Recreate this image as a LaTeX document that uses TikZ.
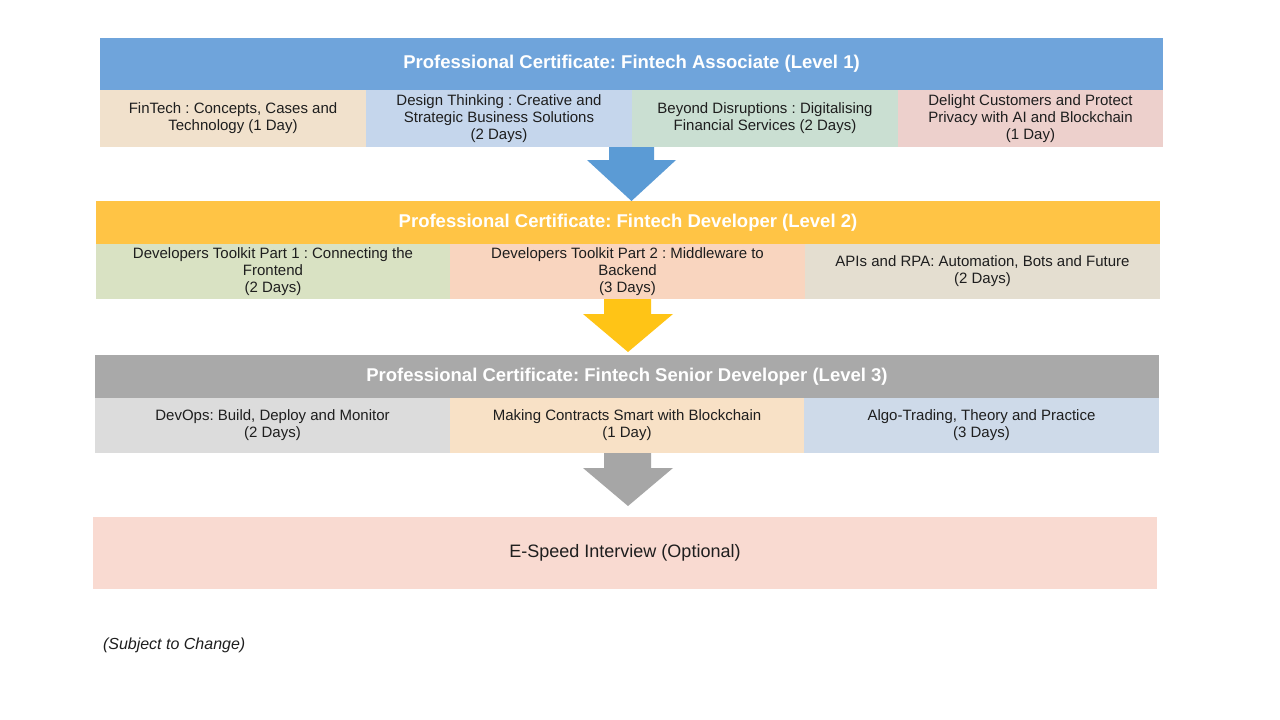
\documentclass[tikz,border=0pt]{standalone}
\usepackage{fontspec}
\setmainfont{Liberation Sans}
\frenchspacing
\definecolor{hblue}{RGB}{111,164,219}
\definecolor{ablue}{RGB}{91,155,213}
\definecolor{hyellow}{RGB}{255,196,69}
\definecolor{ayellow}{RGB}{255,196,22}
\definecolor{hgray}{RGB}{169,169,169}
\definecolor{agray}{RGB}{166,166,166}
\definecolor{ca}{RGB}{241,225,204}
\definecolor{cb}{RGB}{197,214,236}
\definecolor{cc}{RGB}{202,223,210}
\definecolor{cd}{RGB}{237,208,204}
\definecolor{ce}{RGB}{217,226,195}
\definecolor{cf}{RGB}{249,213,191}
\definecolor{cg}{RGB}{228,222,208}
\definecolor{ch}{RGB}{220,220,220}
\definecolor{ci}{RGB}{248,225,198}
\definecolor{cj}{RGB}{206,218,233}
\definecolor{ck}{RGB}{249,218,209}
\definecolor{txt}{RGB}{30,30,30}
\begin{document}
\begin{tikzpicture}[x=1pt,y=-1pt,
  box/.style={rectangle,inner sep=0pt,outer sep=0pt,draw=none,align=center},
  head/.style={box,text=white,font=\bfseries\fontsize{18.5}{22}\selectfont},
  cell/.style={box,text=txt,font=\fontsize{15}{17}\selectfont,
    execute at begin node={\rule{0pt}{14pt}}}]
\useasboundingbox (0,0) rectangle (1280,720);
\fill[white] (0,0) rectangle (1280,720);

% Level 1
\node[head,fill=hblue,minimum width=1063pt,minimum height=52pt] (h1) at (631.5,64) {\raisebox{4pt}{Professional Certificate: Fintech Associate (Level 1)}};
\node[cell,fill=ca,minimum width=266pt,minimum height=57pt] (c11) at (233,118.5) {FinTech : Concepts, Cases and\\Technology (1 Day)};
\node[cell,fill=cb,minimum width=266pt,minimum height=57pt] (c12) at (499,118.5) {Design Thinking : Creative and\\Strategic Business Solutions\\(2 Days)};
\node[cell,fill=cc,minimum width=266pt,minimum height=57pt] (c13) at (765,118.5) {Beyond Disruptions : Digitalising\\Financial Services (2 Days)};
\node[cell,fill=cd,minimum width=265pt,minimum height=57pt] (c14) at (1030.5,118.5) {Delight Customers and Protect\\Privacy with AI and Blockchain\\(1 Day)};

% Arrow 1 (Level 1 -> Level 2)
\fill[ablue] (609,147) -- (654,147) -- (654,160) -- (676,160) -- (631.5,201) -- (587,160) -- (609,160) -- cycle;

% Level 2
\node[head,fill=hyellow,minimum width=1064pt,minimum height=43pt] (h2) at (628,222.5) {\raisebox{3pt}{Professional Certificate: Fintech Developer (Level 2)}};
\node[cell,fill=ce,minimum width=354pt,minimum height=55pt] (c21) at (273,271.5) {Developers Toolkit Part 1 : Connecting the\\Frontend\\(2 Days)};
\node[cell,fill=cf,minimum width=355pt,minimum height=55pt] (c22) at (627.5,271.5) {Developers Toolkit Part 2 : Middleware to\\Backend\\(3 Days)};
\node[cell,fill=cg,minimum width=355pt,minimum height=55pt] (c23) at (982.5,271.5) {APIs and RPA: Automation, Bots and Future\\(2 Days)};

% Arrow 2 (Level 2 -> Level 3)
\fill[ayellow] (604,299) -- (651,299) -- (651,314) -- (673,314) -- (628,352) -- (583,314) -- (604,314) -- cycle;

% Level 3
\node[head,fill=hgray,minimum width=1064pt,minimum height=43pt] (h3) at (627,376.5) {\raisebox{3pt}{Professional Certificate: Fintech Senior Developer (Level 3)}};
\node[cell,fill=ch,minimum width=355pt,minimum height=55pt] (c31) at (272.5,425.5) {DevOps: Build, Deploy and Monitor\\(2 Days)};
\node[cell,fill=ci,minimum width=354pt,minimum height=55pt] (c32) at (627,425.5) {Making Contracts Smart with Blockchain\\(1 Day)};
\node[cell,fill=cj,minimum width=355pt,minimum height=55pt] (c33) at (981.5,425.5) {Algo-Trading, Theory and Practice\\(3 Days)};

% Arrow 3 (Level 3 -> interview)
\fill[agray] (604,453) -- (651,453) -- (651,468) -- (673,468) -- (628,506) -- (583,468) -- (604,468) -- cycle;

% Final box
\node[box,fill=ck,text=txt,font=\fontsize{18}{21}\selectfont,minimum width=1064pt,minimum height=72pt] (es) at (625,553) {E-Speed Interview (Optional)};

\node[box,text=txt,font=\itshape\fontsize{16}{19}\selectfont,anchor=west] (note) at (103,645.5) {(Subject to Change)};
\end{tikzpicture}
\end{document}
